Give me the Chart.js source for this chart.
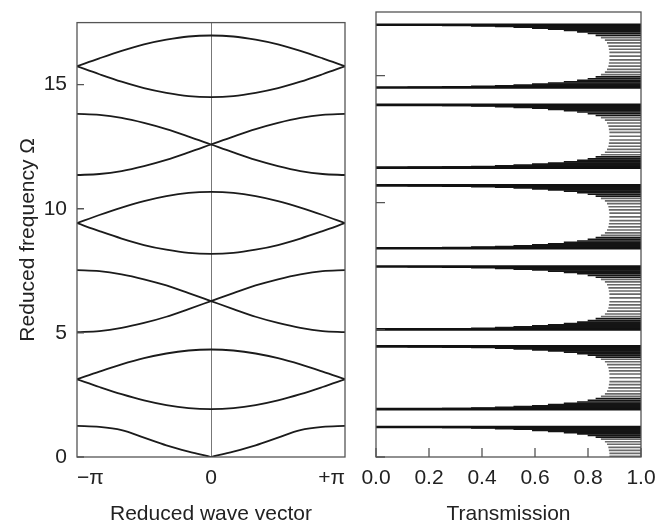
<!DOCTYPE html>
<html>
<head>
<meta charset="utf-8">
<title>Band structure and transmission</title>
<script src="https://cdn.jsdelivr.net/npm/chart.js@4.4.1/dist/chart.umd.min.js"></script>
<style>
  html, body { margin: 0; padding: 0; background: #fff; }
  #wrap { position: relative; width: 667px; height: 525px; overflow: hidden; }
  #bands { position: absolute; left: 0; top: 0; }
  #trans { position: absolute; left: 350px; top: 0; }
</style>
</head>
<body>
<div id="wrap">
  <canvas id="bands" width="360" height="525"></canvas>
  <canvas id="trans" width="317" height="525"></canvas>
</div>
<script>
// reduced wave vector, in units of pi
const waveVector = [-1, -0.833, -0.667, -0.5, -0.333, -0.167, 0, 0.167, 0.333, 0.5, 0.667, 0.833, 1]
const waveTicks = [-1, 0, 1]
const waveLabels = ['\u2212\u03c0', '0', '+\u03c0']
const freqTicks = [0, 5, 10, 15]
const transTicks = [0, 0.2, 0.4, 0.6, 0.8, 1]

// dispersion branches: reduced frequency at each wave vector
const branch1 = [1.25, 1.21, 1.08, 0.78, 0.47, 0.22, 0, 0.22, 0.47, 0.78, 1.08, 1.21, 1.25]
const branch2 = [3.13, 2.82, 2.53, 2.28, 2.09, 1.97, 1.93, 1.97, 2.09, 2.28, 2.53, 2.82, 3.13]
const branch3 = [3.13, 3.44, 3.73, 3.98, 4.17, 4.29, 4.33, 4.29, 4.17, 3.98, 3.73, 3.44, 3.13]
const branch4 = [7.53, 7.49, 7.36, 7.16, 6.91, 6.60, 6.28, 5.96, 5.65, 5.40, 5.20, 5.07, 5.03]
const branch5 = [5.03, 5.07, 5.20, 5.40, 5.65, 5.96, 6.28, 6.60, 6.91, 7.16, 7.36, 7.49, 7.53]
const branch6 = [9.42, 9.10, 8.80, 8.54, 8.35, 8.22, 8.18, 8.22, 8.35, 8.54, 8.80, 9.10, 9.42]
const branch7 = [9.42, 9.75, 10.05, 10.31, 10.51, 10.64, 10.68, 10.64, 10.51, 10.31, 10.05, 9.75, 9.42]
const branch8 = [13.82, 13.78, 13.66, 13.46, 13.21, 12.91, 12.59, 12.27, 11.97, 11.72, 11.52, 11.40, 11.36]
const branch9 = [11.36, 11.40, 11.52, 11.72, 11.97, 12.27, 12.59, 12.91, 13.21, 13.46, 13.66, 13.78, 13.82]
const branch10 = [15.74, 15.42, 15.12, 14.86, 14.67, 14.54, 14.50, 14.54, 14.67, 14.86, 15.12, 15.42, 15.74]
const branch11 = [15.74, 16.06, 16.36, 16.62, 16.81, 16.94, 16.98, 16.94, 16.81, 16.62, 16.36, 16.06, 15.74]

// pass bands seen in the transmission spectrum
const passLow = [1.88, 5.02, 8.21, 11.38, 14.53]
const passHigh = [4.35, 7.49, 10.68, 13.85, 17.00]
// fringe minima inside a pass band: position as fraction of the band, transmission at the dip
const fringePos = [0.004, 0.010, 0.018, 0.028, 0.040, 0.055, 0.072, 0.092, 0.115, 0.14, 0.17, 0.205,
  0.245, 0.29, 0.34, 0.39, 0.44, 0.50, 0.56, 0.61, 0.66, 0.71, 0.755, 0.795, 0.83, 0.86, 0.885,
  0.908, 0.928, 0.945, 0.960, 0.972, 0.982, 0.990, 0.996]
const fringeDip = [0.12, 0.25, 0.36, 0.45, 0.52, 0.59, 0.65, 0.71, 0.76, 0.80, 0.83, 0.85,
  0.865, 0.873, 0.878, 0.88, 0.882, 0.882, 0.882, 0.88, 0.878, 0.873, 0.865, 0.85, 0.83, 0.80, 0.76,
  0.71, 0.65, 0.59, 0.52, 0.45, 0.36, 0.25, 0.12]
// lowest band starts at zero frequency
const lowBandEdge = 1.18
const lowBandOmega = [0.03, 0.14, 0.26, 0.38, 0.50, 0.60, 0.70, 0.78, 0.85, 0.91, 0.96, 1.01, 1.05, 1.09, 1.11, 1.14, 1.16, 1.17]
const lowBandDip = [0.882, 0.882, 0.88, 0.878, 0.873, 0.865, 0.85, 0.83, 0.80, 0.76, 0.71, 0.65, 0.59, 0.52, 0.45, 0.36, 0.25, 0.12]

Chart.defaults.font.family = '"Liberation Sans", Arial, Helvetica, sans-serif'
Chart.defaults.font.size = 21
Chart.defaults.color = '#222'

// box around the plot area and short inward tick marks
const frame = {
  id: 'frame',
  afterDraw (chart, args, opts) {
    const { ctx, chartArea: a, scales } = chart
    ctx.save()
    ctx.strokeStyle = '#555'
    ctx.lineWidth = 1.3
    ctx.strokeRect(a.left, a.top, a.right - a.left, a.bottom - a.top)
    ctx.beginPath()
    for (const t of scales.y.ticks) {
      const py = scales.y.getPixelForValue(t.value)
      ctx.moveTo(a.left, py)
      ctx.lineTo(a.left + opts.len, py)
    }
    if (opts.xTicks) {
      for (const t of scales.x.ticks) {
        const px = scales.x.getPixelForValue(t.value)
        ctx.moveTo(px, a.bottom)
        ctx.lineTo(px, a.bottom - opts.len)
      }
    }
    ctx.stroke()
    ctx.restore()
  }
}

function fixedTicks (values) {
  return (scale) => { scale.ticks = values.map((v) => ({ value: v })) }
}

const lineStyle = {
  showLine: true,
  borderColor: '#1b1b1b',
  borderWidth: 1.8,
  pointRadius: 0,
  cubicInterpolationMode: 'monotone'
}

const branches = [branch2, branch3, branch4, branch5, branch6, branch7, branch8, branch9, branch10, branch11]
const bandSets = branches.map((v) => ({
  ...lineStyle,
  data: waveVector.map((k, i) => ({ x: k, y: v[i] }))
}))
// lowest branch has a cusp at k = 0, draw its two halves
bandSets.push({ ...lineStyle, data: waveVector.slice(0, 7).map((k, i) => ({ x: k, y: branch1[i] })) })
bandSets.push({ ...lineStyle, data: waveVector.slice(6).map((k, i) => ({ x: k, y: branch1[i + 6] })) })

new Chart(document.getElementById('bands'), {
  type: 'scatter',
  data: { datasets: bandSets },
  options: {
    responsive: false,
    animation: false,
    layout: { padding: { left: 17.5, right: 15, top: 12, bottom: 0 } },
    plugins: { legend: { display: false }, tooltip: { enabled: false }, frame: { len: 7, xTicks: false } },
    scales: {
      x: {
        type: 'linear',
        min: -1,
        max: 1,
        afterBuildTicks: fixedTicks(waveTicks),
        afterFit: (s) => { s.height = 68 },
        ticks: { align: 'inner', padding: 9, callback: (v, i) => waveLabels[i] },
        grid: {
          drawTicks: false,
          lineWidth: 1,
          color: (c) => (c.tick && c.tick.value === 0 ? '#777' : 'rgba(0,0,0,0)')
        },
        border: { display: false },
        title: { display: true, text: 'Reduced wave vector', font: { size: 21, lineHeight: 1 }, padding: 0 }
      },
      y: {
        type: 'linear',
        min: 0,
        max: 17.5,
        afterBuildTicks: fixedTicks(freqTicks),
        afterFit: (s) => { s.width = 59.5 },
        ticks: { padding: 10 },
        grid: { display: false, drawTicks: false },
        border: { display: false },
        title: { display: true, text: 'Reduced frequency \u03a9', font: { size: 21, lineHeight: 1 }, padding: 0 }
      }
    }
  },
  plugins: [frame]
})

const fringeBars = []
passLow.forEach((low, b) => {
  const span = passHigh[b] - low
  fringePos.forEach((u, i) => fringeBars.push({ y: low + u * span, x: [fringeDip[i], 1] }))
})
lowBandOmega.forEach((w, i) => fringeBars.push({ y: w, x: [lowBandDip[i], 1] }))
const edgeBars = passLow.concat(passHigh, [lowBandEdge]).map((w) => ({ y: w, x: [0, 1] }))

// deep fringes near the band edges pile up black, shallow ones read as grey hatching
function fringeColor (c) {
  const dip = c.raw && c.raw.x ? c.raw.x[0] : 1
  return dip < 0.84 ? '#151515' : '#6a6a6a'
}

new Chart(document.getElementById('trans'), {
  type: 'bar',
  data: {
    datasets: [
      { data: edgeBars, backgroundColor: '#111', barThickness: 2, grouped: false, order: 0 },
      { data: fringeBars, backgroundColor: fringeColor, barThickness: 1, grouped: false, order: 1 }
    ]
  },
  options: {
    indexAxis: 'y',
    responsive: false,
    animation: false,
    layout: { padding: { left: 0, right: 26, top: 12, bottom: 0 } },
    plugins: { legend: { display: false }, tooltip: { enabled: false }, frame: { len: 9, xTicks: true } },
    scales: {
      x: {
        type: 'linear',
        min: 0,
        max: 1,
        afterBuildTicks: fixedTicks(transTicks),
        afterFit: (s) => { s.height = 68 },
        ticks: { padding: 9, callback: (v) => v.toFixed(1) },
        grid: { display: false, drawTicks: false },
        border: { display: false },
        title: { display: true, text: 'Transmission', font: { size: 21, lineHeight: 1 }, padding: 0 }
      },
      y: {
        type: 'linear',
        min: 0,
        max: 17.5,
        offset: false,
        afterBuildTicks: fixedTicks(freqTicks),
        afterFit: (s) => { s.width = 26 },
        ticks: { display: false },
        grid: { display: false, drawTicks: false, offset: false },
        border: { display: false }
      }
    }
  },
  plugins: [frame]
})
</script>
</body>
</html>
